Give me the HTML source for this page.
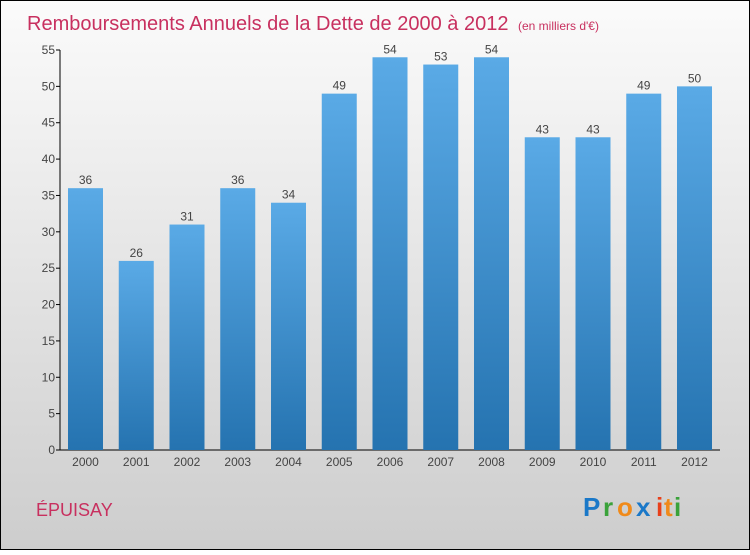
<!DOCTYPE html>
<html><head><meta charset="utf-8"><style>
body{margin:0;width:750px;height:550px;overflow:hidden;font-family:"Liberation Sans","DejaVu Sans",sans-serif}
</style></head><body>
<svg id="chart" width="750" height="550" xmlns="http://www.w3.org/2000/svg">
<defs>
<linearGradient id="bg" x1="0" y1="0" x2="0" y2="1"><stop offset="0" stop-color="#fbfbfb"/><stop offset="1" stop-color="#cdcdcd"/></linearGradient>
<linearGradient id="bar" x1="0" y1="0" x2="0" y2="1"><stop offset="0" stop-color="#5aaae6"/><stop offset="1" stop-color="#2573b0"/></linearGradient>
</defs>
<rect x="0.5" y="0.5" width="749" height="549" fill="url(#bg)" stroke="#000"/>
<text x="27" y="30" font-size="20" fill="#c8305f">Remboursements Annuels de la Dette de 2000 à 2012 <tspan font-size="12" dx="4">(en milliers d'€)</tspan></text>
<g id="axes"></g><g id="bars"></g>
<text x="36" y="516" font-size="18" fill="#c8305f">ÉPUISAY</text>
<g font-size="26" font-weight="bold">
<text x="583" y="516" fill="#1a78c8">P</text><text x="603" y="516" fill="#3aa23a">r</text><text x="617" y="516" fill="#f08a1a">o</text><text x="636" y="516" fill="#1a78c8">x</text><text x="656" y="516" fill="#e8401a">i</text><text x="664" y="516" fill="#f08a1a">t</text><text x="674" y="516" fill="#3aa23a">i</text>
</g>
</svg>
<script>
const categories=["2000","2001","2002","2003","2004","2005","2006","2007","2008","2009","2010","2011","2012"];
const values=[36,26,31,36,34,49,54,53,54,43,43,49,50];
const yTicks=[0,5,10,15,20,25,30,35,40,45,50,55];
const NS="http://www.w3.org/2000/svg";
const x0=60,x1=720,yb=450,yt=50,ymax=55;
const y=v=>yb-(v/ymax)*(yb-yt);
const step=50.75;
const cx=i=>85.5+step*i;
function mk(t,a,p,txt){const e=document.createElementNS(NS,t);for(const k in a)e.setAttribute(k,a[k]);if(txt!==undefined)e.textContent=txt;p.appendChild(e);return e;}
const ax=document.getElementById('axes'),bg=document.getElementById('bars');
const yl=mk('line',{x1:x0,y1:yt,x2:x0,y2:yb,stroke:'#000'},ax);


const xl=mk('line',{x1:x0,y1:yb,x2:x1,y2:yb,stroke:'#000'},ax);


yTicks.forEach(v=>{
 mk('line',{x1:x0-4,y1:y(v),x2:x0,y2:y(v),stroke:'#000'},ax);
 const t=mk('text',{x:x0-5,y:y(v)+4,'text-anchor':'end','font-size':12,fill:'#444'},ax,v);
 
 
});
categories.forEach((c,i)=>{
 const bw=35;
 const r=mk('rect',{x:cx(i)-bw/2,y:y(values[i]),width:bw,height:yb-y(values[i]),fill:'url(#bar)'},bg);
 
 
 const lt=mk('text',{x:cx(i),y:y(values[i])-4,'text-anchor':'middle','font-size':12,fill:'#444'},bg,values[i]);
 
 
 const xt=mk('text',{x:cx(i),y:yb+16,'text-anchor':'middle','font-size':12,fill:'#444'},ax,c);
 
 
});
</script>
</body></html>
